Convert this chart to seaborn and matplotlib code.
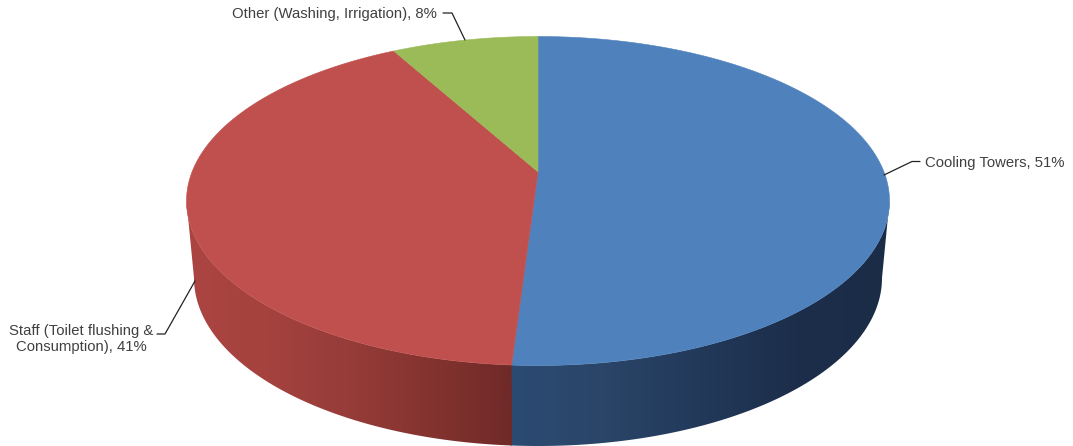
import numpy as np
import matplotlib
matplotlib.use("Agg")
import matplotlib.pyplot as plt
from matplotlib.colors import LinearSegmentedColormap
from matplotlib.patches import Polygon
import seaborn as sns

# --- data ---
categories = ["Cooling Towers", "Staff", "Other"]
values = [51, 41, 8]   # clockwise from 12 o'clock
labels = ["Cooling Towers, 51%", "Staff (Toilet flushing &\nConsumption), 41%", "Other (Washing, Irrigation), 8%"]
top_colors = ["#4f81bd", "#c0504d", "#9bbb59"]
# wall colours, ordered left to right across each visible wall
wall_ramps = [["#2c4b72", "#2a4568", "#22395a", "#1c2e4a", "#1b2c47"],
              ["#ab4541", "#a5423e", "#963c39", "#84332f", "#6f2a28"]]

sns.set_theme(style="white")
plt.rcParams["font.family"] = ["Liberation Sans", "DejaVu Sans"]
palette = sns.color_palette(top_colors)

W, H = 1073, 446
fig = plt.figure(figsize=(W / 100, H / 100), dpi=100)
ax = fig.add_axes([0, 0, 1, 1])

CX = 538
K = 0.177

def project(t, rx, ry, cy, k=K):
    """t: clockwise angle from 12 o'clock; perspective disc projection."""
    u, v = np.sin(t), np.cos(t)
    a = rx * np.sqrt(1 - k * k)
    den = 1 + k * v
    return CX + a * u / den, cy - ry * (v + k) / den

TOP = dict(rx=351.5, ry=164.5, cy=201)
BOT = dict(rx=344, ry=168, cy=278)

frac = np.cumsum([0] + values) / sum(values)
angles = 2 * np.pi * frac
t_right = np.pi / 2 + np.arcsin(K)      # silhouette angle on the right
t_left = 2 * np.pi - t_right            # silhouette angle on the left

# walls: horizontal gradients clipped to the wall outline
for i in range(2):
    lo = max(angles[i], t_right)
    hi = min(angles[i + 1], t_left)
    if i == 0:
        hi += 0.004   # tuck the blue wall under the red one, no gap at the seam
    ts = np.linspace(lo, hi, 240)
    x0, y0 = project(ts, **TOP)
    x1, y1 = project(ts, **BOT)
    xs = np.r_[x0, x1[::-1]]
    ys = np.r_[y0, y1[::-1]]
    cmap = LinearSegmentedColormap.from_list(f"wall{i}", wall_ramps[i])
    grad = np.linspace(0, 1, 512)[None, :]
    im = ax.imshow(grad, cmap=cmap, aspect="auto", zorder=2, interpolation="bilinear",
                   extent=(xs.min(), xs.max(), ys.max(), ys.min()))
    patch = Polygon(np.c_[xs, ys], closed=True, transform=ax.transData, fc="none", ec="none")
    ax.add_patch(patch)
    im.set_clip_path(patch)

# top face
cx0 = CX
cy0 = TOP["cy"] - TOP["ry"] * K
for i, color in enumerate(palette):
    ts = np.linspace(angles[i], angles[i + 1], 300)
    x, y = project(ts, **TOP)
    ax.fill(np.r_[cx0, x], np.r_[cy0, y], color=color, lw=0.4, zorder=3)

# leader lines and labels
text_color = "#404040"
leaders = [([884, 912, 920], [175, 161.5, 161.5]),
           ([195, 165, 157], [281, 334, 334]),
           ([465, 452, 443], [40, 13, 13])]
label_pos = [(925, 163, "left"), (81, 339, "center"), (437, 14, "right")]
for (lx, ly), (tx, ty, ha), lab in zip(leaders, label_pos, labels):
    ax.plot(lx, ly, color="#222222", lw=0.9, zorder=4)
    ax.text(tx, ty, lab, ha=ha, va="center", fontsize=10.7, color=text_color,
            linespacing=1.2, multialignment="center")

ax.set_xlim(0, W)
ax.set_ylim(H, 0)
ax.axis("off")
fig.savefig("out.png", dpi=100)
